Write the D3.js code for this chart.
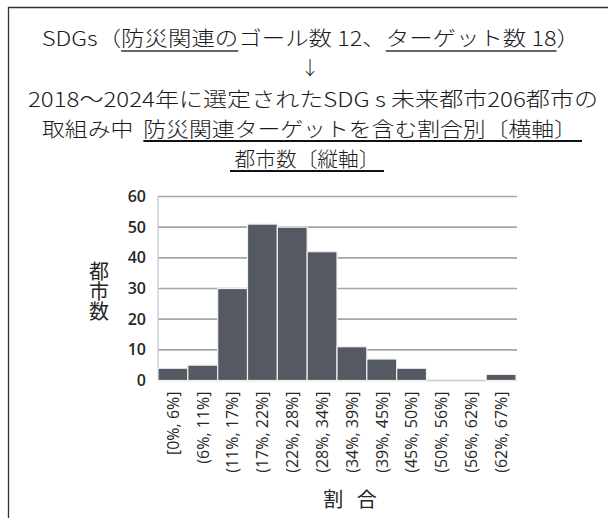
<!DOCTYPE html>
<html>
<head>
<meta charset="utf-8">
<script src="https://cdn.jsdelivr.net/npm/d3@7"></script>
<style>
  body { margin: 0; background: #fff; }
  svg { display: block; }
</style>
</head>
<body>
<div class="chart"></div>
<script>
"use strict";

// Data
var bins = ["[0%, 6%]", "(6%, 11%]", "(11%, 17%]", "(17%, 22%]", "(22%, 28%]", "(28%, 34%]",
            "(34%, 39%]", "(39%, 45%]", "(45%, 50%]", "(50%, 56%]", "(56%, 62%]", "(62%, 67%]"];
var cityCounts = [4, 5, 30, 51, 50, 42, 11, 7, 4, 0, 0, 2];
var yTicks = [0, 10, 20, 30, 40, 50, 60];

// Title lines: segments, u = underlined
var titleLines = [
    [{ t: "SDGs（" }, { t: "防災関連の", u: 1 }, { t: "ゴール数 12、" }, { t: "ターゲット数 18", u: 1 }, { t: "）" }],
    [{ t: "↓" }],
    [{ t: "2018〜2024年に選定されたSDG s 未来都市206都市の" }],
    [{ t: "取組み中\u00a0\u00a0" }, { t: "防災関連ターゲットを含む割合別〔横軸〕\u00a0", u: 2 }],
    [{ t: "\u00a0都市数〔縦軸〕\u00a0", u: 2 }]
];
var titleBaselines = [46, 74.5, 107, 137, 167];
var titleSizes = [20.5, 19, 20.5, 20.5, 20.5];
var titleCenters = [311, 310, 313, 312, 307];
var titleWidths = [538, 0, 570, 540, 154];
var underlineY = [51, 0, 0, 141, 171];

var width = 608;
var height = 518;
var margin = { top: 196.5, right: 92, bottom: 137.5, left: 158 };
var plotW = width - margin.left - margin.right;
var plotH = height - margin.top - margin.bottom;

var cjkFont = "'Noto Sans CJK JP', 'Noto Sans', sans-serif";
var numFont = "'Open Sans', 'Noto Sans', sans-serif";
var textColor = "#262626";
var barColor = "#555a62";
var gridColor = "#a3a7ad";

var svg = d3.select(".chart").append("svg")
    .attr("width", width)
    .attr("height", height);

svg.append("rect").attr("width", width).attr("height", height).attr("fill", "#fff");

// Frame (cropped at right and bottom)
svg.append("path")
    .attr("d", "M8.5," + height + "V7.5H" + width)
    .attr("fill", "none")
    .attr("stroke", "#333")
    .attr("stroke-width", 1.3);

// Title
titleLines.forEach(function (segs, i) {
    var txt = svg.append("text")
        .attr("x", titleCenters[i])
        .attr("y", titleBaselines[i])
        .attr("text-anchor", "middle")
        .style("font-family", cjkFont)
        .style("font-size", titleSizes[i] + "px")
        .style("font-weight", "300")
        .style("fill", "#1a1a1a");
    if (titleWidths[i]) {
        txt.attr("textLength", titleWidths[i]).attr("lengthAdjust", "spacingAndGlyphs");
    }
    segs.forEach(function (s) {
        txt.append("tspan").text(s.t);
    });
    // underlines measured from rendered text
    var node = txt.node();
    var charIdx = 0;
    segs.forEach(function (s) {
        if (s.u) {
            var x0 = node.getStartPositionOfChar(charIdx).x;
            var x1 = node.getEndPositionOfChar(charIdx + s.t.length - 1).x;
            svg.append("line")
                .attr("x1", x0).attr("x2", x1)
                .attr("y1", underlineY[i]).attr("y2", underlineY[i])
                .attr("stroke", s.u === 2 ? "#111" : "#333")
                .attr("stroke-width", s.u === 2 ? 2.2 : 1.3);
        }
        charIdx += s.t.length;
    });
});

var g = svg.append("g")
    .attr("transform", "translate(" + margin.left + "," + margin.top + ")");

var x = d3.scaleBand().domain(bins).range([0, plotW]).padding(0);
var y = d3.scaleLinear().domain([0, 60]).range([plotH, 0]);

// Gridlines
g.append("g")
    .selectAll("line")
    .data(yTicks)
    .join("line")
    .attr("x1", 0).attr("x2", plotW + 1)
    .attr("y1", function (d) { return y(d); })
    .attr("y2", function (d) { return y(d); })
    .attr("stroke", function (d) { return d === 0 ? "#c9ccd1" : gridColor; })
    .attr("stroke-width", 1.6);

// Left axis line
g.append("line")
    .attr("x1", 0).attr("x2", 0)
    .attr("y1", 0).attr("y2", plotH)
    .attr("stroke", "#c9ccd1")
    .attr("stroke-width", 1.4);

// Bars
g.append("g")
    .selectAll("rect")
    .data(cityCounts)
    .join("rect")
    .attr("x", function (d, i) { return x(bins[i]); })
    .attr("width", x.bandwidth())
    .attr("y", function (d) { return y(d); })
    .attr("height", function (d) { return plotH - y(d); })
    .attr("fill", barColor)
    .attr("stroke", "#eef0f2")
    .attr("stroke-width", 1.2);

// Y axis labels
var yAxis = g.append("g")
    .attr("transform", "translate(-12,0)")
    .call(d3.axisLeft(y).tickValues(yTicks).tickSize(0).tickPadding(0));
yAxis.select(".domain").remove();
yAxis.selectAll("text")
    .style("font-family", numFont)
    .style("font-size", "16px")
    .style("font-weight", "600")
    .style("fill", textColor);

// X axis labels (rotated)
var xAxis = g.append("g")
    .attr("transform", "translate(0," + plotH + ")")
    .call(d3.axisBottom(x).tickSize(0).tickPadding(0));
xAxis.select(".domain").remove();
xAxis.selectAll("text")
    .attr("transform", "rotate(-90)")
    .attr("x", -11)
    .attr("y", 0)
    .attr("dy", "0.36em")
    .style("text-anchor", "end")
    .style("font-family", numFont)
    .style("font-size", "16px")
    .style("fill", textColor);

// Y title, vertical text
svg.append("text")
    .attr("x", 99)
    .attr("y", 291)
    .attr("text-anchor", "middle")
    .style("writing-mode", "vertical-rl")
    .style("font-family", cjkFont)
    .style("font-size", "20px")
    .style("fill", textColor)
    .text("都市数");

// X title
svg.append("text")
    .attr("x", 350)
    .attr("y", 507)
    .attr("text-anchor", "middle")
    .style("font-family", cjkFont)
    .style("font-size", "20px")
    .style("word-spacing", "9px")
    .style("fill", textColor)
    .text("割 合");
</script>
</body>
</html>
